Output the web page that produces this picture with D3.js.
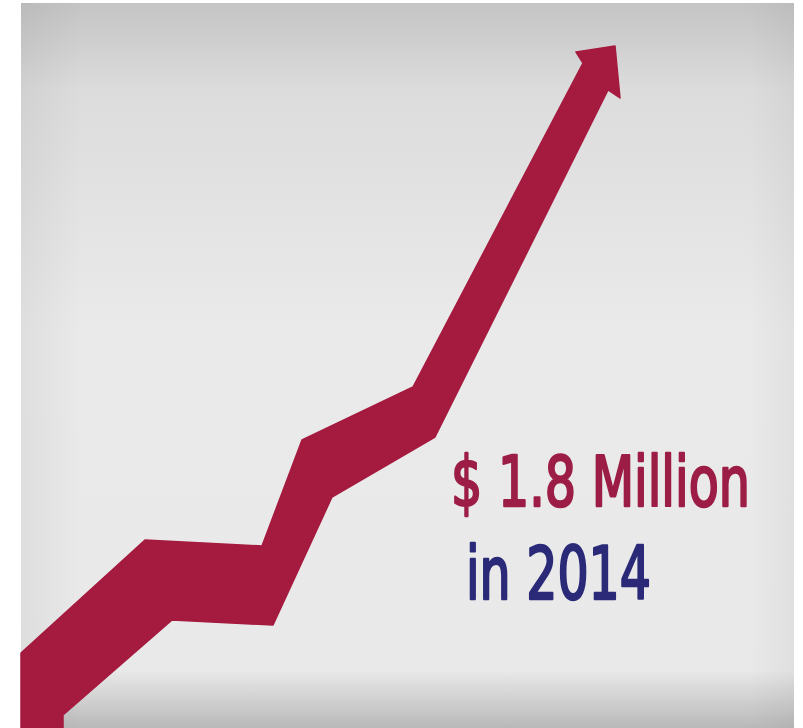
<!DOCTYPE html>
<html>
<head>
<meta charset="utf-8">
<script src="https://cdn.jsdelivr.net/npm/d3@7"></script>
<style>
  html, body { margin: 0; padding: 0; background: #fff; }
  svg { display: block; }
</style>
</head>
<body>
<div id="chart"></div>
<script>
// trend ribbon outline, in chart units (x right, y up)
const trendTop = [[0, 75], [124, 188], [241, 182], [281, 288], [392, 341], [562, 665]];
const arrowHead = [[555, 676], [594, 682], [599, 630], [587, 638]];
const trendBottom = [[414, 291], [311, 231], [252, 103], [151, 108], [42, 13], [42, 0], [0, 0]];

const labelValue = "$ 1.8 Million";
const labelYear = "in 2014";

const W = 803, H = 728;
const frame = {left: 21, right: 794, top: 3, bottom: 728};

const svg = d3.select("#chart").append("svg")
    .attr("width", W)
    .attr("height", H);

const defs = svg.append("defs");

const vgrad = defs.append("linearGradient")
    .attr("id", "bgv")
    .attr("x1", 0).attr("y1", 0).attr("x2", 0).attr("y2", 1);
vgrad.append("stop").attr("offset", "0%").attr("stop-color", "#c4c4c4");
vgrad.append("stop").attr("offset", "12%").attr("stop-color", "#dcdcdc");
vgrad.append("stop").attr("offset", "45%").attr("stop-color", "#eaeaea");
vgrad.append("stop").attr("offset", "92%").attr("stop-color", "#e9e9e9");
vgrad.append("stop").attr("offset", "100%").attr("stop-color", "#b9b9b9");

const hgrad = defs.append("linearGradient")
    .attr("id", "bgh")
    .attr("x1", 0).attr("y1", 0).attr("x2", 1).attr("y2", 0);
hgrad.append("stop").attr("offset", "0%").attr("stop-color", "#000").attr("stop-opacity", 0.05);
hgrad.append("stop").attr("offset", "8%").attr("stop-color", "#000").attr("stop-opacity", 0);
hgrad.append("stop").attr("offset", "94%").attr("stop-color", "#000").attr("stop-opacity", 0);
hgrad.append("stop").attr("offset", "100%").attr("stop-color", "#000").attr("stop-opacity", 0.04);

svg.append("rect")
    .attr("x", frame.left).attr("y", frame.top)
    .attr("width", frame.right - frame.left)
    .attr("height", frame.bottom - frame.top)
    .attr("fill", "url(#bgv)");

svg.append("rect")
    .attr("x", frame.left).attr("y", frame.top)
    .attr("width", frame.right - frame.left)
    .attr("height", frame.bottom - frame.top)
    .attr("fill", "url(#bgh)");

const x = d3.scaleLinear()
    .domain([0, 773])
    .range([frame.left, frame.right]);

const y = d3.scaleLinear()
    .domain([0, 725])
    .range([frame.bottom, frame.top]);

const outline = trendTop.concat(arrowHead, trendBottom);

const line = d3.line()
    .x(d => x(d[0]))
    .y(d => y(d[1]));

svg.append("path")
    .attr("d", line(outline) + "Z")
    .attr("fill", "#a51a3f")
    .attr("stroke", "#a51a3f")
    .attr("stroke-width", 1.5)
    .attr("stroke-linejoin", "round");

const font = "'DejaVu Sans Condensed', 'DejaVu Sans', sans-serif";

// condensed label: natural text squeezed horizontally to the target width
function label(str, left, baseline, width, size, color) {
    const g = svg.append("g");
    const t = g.append("text")
        .style("font-family", font)
        .style("font-size", size + "px")
        .style("fill", color)
        .style("stroke", color)
        .style("stroke-width", 2.4)
        .style("stroke-linejoin", "round")
        .text(str);
    const w = t.node().getComputedTextLength();
    g.attr("transform", `translate(${left},${baseline}) scale(${width / w},1)`);
}

label(labelValue, 451, 506, 299, 70, "#9c1d45");
label(labelYear, 466, 599, 185, 73, "#2b2a78");
</script>
</body>
</html>
